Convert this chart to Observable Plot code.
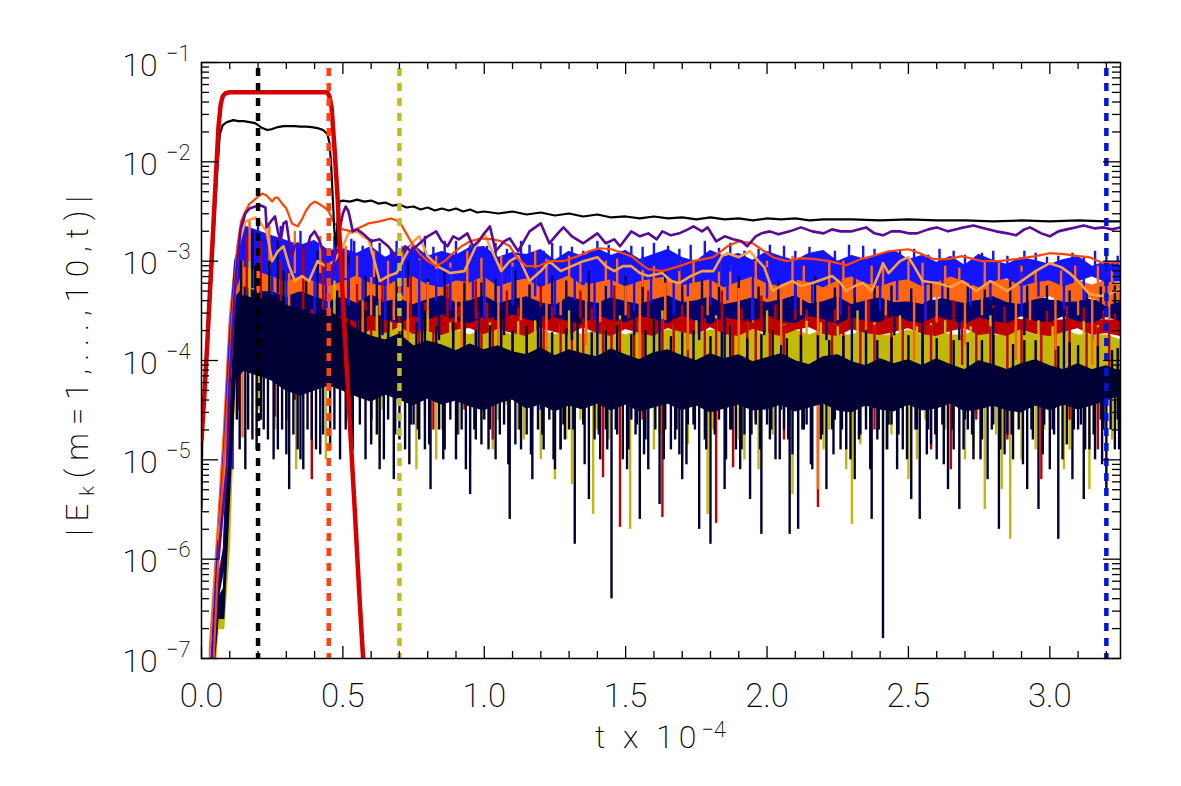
<!DOCTYPE html>
<html>
<head>
<meta charset="utf-8">
<script src="https://cdn.jsdelivr.net/npm/d3@7"></script>
<script src="https://cdn.jsdelivr.net/npm/@observablehq/plot@0.6"></script>
<style>
  html, body { margin: 0; padding: 0; background: #fff; }
  #chart { width: 1181px; height: 786px; }
</style>
</head>
<body>
<div id="chart"></div>
<script>
// ---------- axis tick values ----------
const xMajorTicks = [0, 0.5, 1.0, 1.5, 2.0, 2.5, 3.0];
const xMinorTicks = [0.1,0.2,0.3,0.4,0.6,0.7,0.8,0.9,1.1,1.2,1.3,1.4,1.6,1.7,1.8,1.9,2.1,2.2,2.3,2.4,2.6,2.7,2.8,2.9,3.1,3.2];
const yDecades = [-7, -6, -5, -4, -3, -2, -1];

// ---------- shared time grid for the noisy mode envelopes (t x 1e-4) ----------
const G = [0.03,0.06,0.08,0.1,0.12,0.15,0.2,0.25,0.3,0.35,0.4,0.45,0.5,0.55,0.6,0.65,0.7,0.75,0.8,0.85,0.9,0.95,1,1.05,1.1,1.15,1.2,1.25,1.3,1.35,1.4,1.45,1.5,1.55,1.6,1.65,1.7,1.75,1.8,1.85,1.9,1.95,2,2.05,2.1,2.15,2.2,2.25,2.3,2.35,2.4,2.45,2.5,2.55,2.6,2.65,2.7,2.75,2.8,2.85,2.9,2.95,3,3.05,3.1,3.15,3.2,3.25];

// envelopes, log10 of |E_k|
const blueHi = [-7.3,-5.8,-4.9,-3.8,-3.0,
 -2.65,-2.7,-2.75,-2.8,-2.85,-2.8,-2.9,
 -2.88,-2.93,-2.86,-2.97,-2.9,-2.84,-2.96,-2.91,-2.95,-2.87,
 -2.86,-2.97,-2.92,-2.94,-2.89,-3.0,-2.91,-2.96,-2.88,-2.95,
 -2.9,-2.99,-2.94,-2.89,-2.97,-3.01,-2.9,-2.96,-2.93,-3.0,
 -2.91,-2.96,-3.0,-2.93,-2.9,-3.01,-2.95,-2.99,-2.94,-2.9,
 -2.99,-2.95,-3.02,-2.96,-3.05,-2.94,-3.0,-3.04,-2.97,-3.0,
 -3.04,-2.99,-2.96,-3.06,-3.01,-3.05];
const blueLo = [-7.4,-5.9,-5.0,-4.0,-3.3,
 -3.05,-3.1,-3.15,-3.2,-3.15,-3.2,-3.25,
 -3.2,-3.14,-3.22,-3.25,-3.18,-3.15,-3.23,-3.26,-3.19,-3.21,
 -3.15,-3.25,-3.2,-3.17,-3.26,-3.2,-3.14,-3.24,-3.21,-3.18,
 -3.25,-3.2,-3.17,-3.15,-3.24,-3.21,-3.18,-3.26,-3.2,-3.15,
 -3.22,-3.25,-3.18,-3.21,-3.26,-3.19,-3.15,-3.22,-3.25,-3.2,
 -3.18,-3.25,-3.21,-3.15,-3.2,-3.26,-3.2,-3.17,-3.25,-3.21,
 -3.19,-3.25,-3.2,-3.15,-3.21,-3.2];
const orangeHi = [-6.9,-5.6,-4.7,-3.6,-3.0,
 -2.75,-2.8,-2.85,-2.9,-2.95,-2.9,-3.0,
 -3.0,-3.05,-3.0,-3.1,-3.05,-3.1,-3.05,-3.1,-3.1,-3.05,
 -3.1,-3.1,-3.05,-3.1,-3.15,-3.1,-3.1,-3.05,-3.1,-3.15,
 -3.1,-3.1,-3.15,-3.1,-3.1,-3.15,-3.1,-3.1,-3.15,-3.1,
 -3.15,-3.1,-3.1,-3.15,-3.1,-3.15,-3.15,-3.1,-3.15,-3.1,
 -3.15,-3.2,-3.1,-3.15,-3.2,-3.15,-3.15,-3.2,-3.15,-3.2,
 -3.2,-3.15,-3.2,-3.25,-3.2,-3.25];
const orangeLo = [-7.0,-5.7,-4.9,-3.9,-3.35,
 -3.25,-3.3,-3.3,-3.35,-3.3,-3.35,-3.4,
 -3.35,-3.42,-3.33,-3.4,-3.37,-3.43,-3.38,-3.34,-3.41,-3.39,
 -3.34,-3.42,-3.38,-3.35,-3.41,-3.44,-3.35,-3.39,-3.42,-3.36,
 -3.4,-3.43,-3.38,-3.34,-3.41,-3.39,-3.35,-3.43,-3.4,-3.36,
 -3.41,-3.38,-3.34,-3.42,-3.4,-3.35,-3.43,-3.39,-3.36,-3.41,
 -3.4,-3.43,-3.35,-3.39,-3.42,-3.38,-3.35,-3.41,-3.43,-3.38,
 -3.35,-3.41,-3.4,-3.36,-3.45,-3.4];
const navyHi = [-7.5,-6.3,-5.9,-4.3,-3.3,
 -3.0,-3.05,-3.1,-3.15,-3.1,-3.15,-3.2,
 -3.2,-3.25,-3.3,-3.25,-3.3,-3.3,-3.25,-3.3,-3.3,-3.35,
 -3.3,-3.3,-3.35,-3.3,-3.3,-3.35,-3.3,-3.35,-3.35,-3.3,
 -3.35,-3.35,-3.3,-3.35,-3.35,-3.3,-3.35,-3.35,-3.3,-3.35,
 -3.35,-3.4,-3.35,-3.35,-3.4,-3.35,-3.35,-3.4,-3.35,-3.4,
 -3.35,-3.4,-3.4,-3.35,-3.4,-3.4,-3.35,-3.4,-3.4,-3.35,
 -3.4,-3.4,-3.35,-3.4,-3.4,-3.4];
const navyLo = [-7.6,-6.4,-6.1,-4.6,-3.6,
 -3.45,-3.5,-3.55,-3.6,-3.55,-3.6,-3.6,
 -3.55,-3.61,-3.54,-3.58,-3.62,-3.55,-3.59,-3.53,-3.6,-3.62,
 -3.55,-3.6,-3.53,-3.58,-3.62,-3.56,-3.6,-3.63,-3.54,-3.59,
 -3.61,-3.55,-3.58,-3.62,-3.54,-3.6,-3.63,-3.56,-3.59,-3.61,
 -3.54,-3.6,-3.62,-3.55,-3.58,-3.63,-3.56,-3.6,-3.61,-3.54,
 -3.6,-3.62,-3.55,-3.59,-3.63,-3.56,-3.6,-3.62,-3.55,-3.6,
 -3.61,-3.55,-3.6,-3.62,-3.56,-3.6];
const redHi = [-7.5,-6.2,-5.9,-4.6,-3.3,
 -3.1,-3.15,-3.2,-3.25,-3.3,-3.25,-3.3,
 -3.35,-3.4,-3.45,-3.4,-3.45,-3.5,-3.45,-3.5,-3.45,-3.5,
 -3.5,-3.45,-3.5,-3.5,-3.45,-3.5,-3.5,-3.5,-3.45,-3.5,
 -3.5,-3.5,-3.45,-3.5,-3.5,-3.55,-3.5,-3.5,-3.55,-3.5,
 -3.5,-3.55,-3.5,-3.55,-3.5,-3.55,-3.55,-3.5,-3.55,-3.55,
 -3.5,-3.55,-3.55,-3.6,-3.55,-3.55,-3.6,-3.55,-3.6,-3.55,
 -3.6,-3.6,-3.55,-3.6,-3.6,-3.6];
const redLo = [-7.6,-6.3,-6.0,-4.8,-3.7,
 -3.6,-3.65,-3.68,-3.7,-3.68,-3.72,-3.68,
 -3.68,-3.74,-3.69,-3.72,-3.66,-3.73,-3.7,-3.74,-3.69,-3.67,
 -3.73,-3.68,-3.72,-3.75,-3.67,-3.71,-3.74,-3.66,-3.72,-3.75,
 -3.68,-3.72,-3.75,-3.67,-3.71,-3.74,-3.66,-3.73,-3.75,-3.68,
 -3.72,-3.75,-3.69,-3.66,-3.73,-3.75,-3.68,-3.72,-3.74,-3.71,
 -3.67,-3.73,-3.75,-3.7,-3.67,-3.74,-3.72,-3.75,-3.68,-3.73,
 -3.75,-3.71,-3.67,-3.74,-3.72,-3.75];
const oliveHi = [-7.7,-6.6,-6.5,-5.6,-3.8,
 -3.35,-3.4,-3.45,-3.5,-3.55,-3.5,-3.5,
 -3.6,-3.65,-3.7,-3.65,-3.7,-3.7,-3.65,-3.7,-3.7,-3.75,
 -3.7,-3.7,-3.75,-3.7,-3.7,-3.75,-3.7,-3.75,-3.7,-3.7,
 -3.75,-3.7,-3.75,-3.7,-3.7,-3.75,-3.7,-3.7,-3.75,-3.7,
 -3.75,-3.7,-3.7,-3.75,-3.7,-3.75,-3.75,-3.7,-3.75,-3.75,
 -3.7,-3.75,-3.7,-3.75,-3.75,-3.7,-3.75,-3.75,-3.7,-3.75,
 -3.75,-3.7,-3.75,-3.75,-3.75,-3.8];
const oliveLo = [-7.8,-6.7,-6.7,-5.9,-4.2,
 -4.0,-4.05,-4.1,-4.15,-4.1,-4.15,-4.1,
 -4.1,-4.15,-4.1,-4.15,-4.1,-4.15,-4.1,-4.1,-4.15,-4.1,
 -4.15,-4.1,-4.15,-4.1,-4.15,-4.1,-4.1,-4.15,-4.1,-4.15,
 -4.1,-4.15,-4.1,-4.1,-4.15,-4.1,-4.15,-4.1,-4.15,-4.1,
 -4.1,-4.15,-4.1,-4.15,-4.1,-4.15,-4.1,-4.1,-4.15,-4.1,
 -4.15,-4.1,-4.15,-4.1,-4.1,-4.15,-4.1,-4.15,-4.1,-4.15,
 -4.1,-4.1,-4.15,-4.1,-4.15,-4.1];
const darkHi = [-7.5,-6.4,-6.3,-4.7,-3.6,
 -3.35,-3.4,-3.35,-3.45,-3.5,-3.55,-3.5,
 -3.6,-3.7,-3.76,-3.8,-3.74,-3.86,-3.81,-3.85,-3.91,-3.84,
 -3.9,-3.86,-3.92,-3.95,-3.88,-3.96,-3.9,-3.94,-3.97,-3.89,
 -3.95,-4.0,-3.93,-3.9,-3.96,-4.01,-3.94,-3.99,-3.95,-4.02,
 -3.98,-3.94,-4.01,-4.05,-3.97,-3.95,-4.02,-4.06,-3.99,-4.04,
 -4.0,-4.06,-3.99,-4.05,-4.1,-4.01,-4.05,-4.1,-4.04,-4.0,
 -4.06,-4.1,-4.04,-4.1,-4.06,-4.12];
const darkLo = [-7.6,-6.6,-6.6,-5.4,-4.2,
 -4.1,-4.15,-4.2,-4.3,-4.35,-4.3,-4.25,
 -4.3,-4.36,-4.41,-4.34,-4.39,-4.45,-4.38,-4.44,-4.4,-4.46,
 -4.5,-4.43,-4.39,-4.48,-4.44,-4.51,-4.45,-4.49,-4.43,-4.5,
 -4.44,-4.51,-4.47,-4.43,-4.5,-4.45,-4.52,-4.48,-4.44,-4.5,
 -4.49,-4.44,-4.51,-4.47,-4.43,-4.5,-4.52,-4.45,-4.49,-4.51,
 -4.44,-4.5,-4.48,-4.43,-4.51,-4.49,-4.45,-4.5,-4.52,-4.45,
 -4.5,-4.44,-4.49,-4.45,-4.4,-4.35];

// spikes [t, log10 tip]
const blueSpikes = [[0.11,-5.1],[0.25,-3.97],[0.3,-3.6],[0.4,-3.87],[0.44,-3.7],[0.52,-3.5],[0.65,-3.6],[0.77,-3.7],[0.88,-3.5],[1.0,-3.6],[1.1,-3.45],[1.25,-3.55],[1.39,-3.6],[1.53,-3.5],[1.67,-3.55],[1.8,-3.45],[1.95,-3.6],[2.1,-3.5],[2.26,-3.55],[2.4,-3.5],[2.56,-3.6],[2.72,-3.45],[2.9,-3.55],[3.05,-3.5],[3.2,-3.45],
 [0.15,-2.55],[0.2,-2.6],[0.28,-2.65],[0.35,-2.7],[0.47,-2.75],[0.54,-2.8],[0.6,-2.78],[0.69,-2.8],[0.79,-2.75],[0.9,-2.8],[1.01,-2.85],[1.13,-2.8],[1.27,-2.85],[1.4,-2.8],[1.52,-2.85],[1.65,-2.85],[1.78,-2.8],[1.92,-2.9],[2.06,-2.85],[2.2,-2.9],[2.34,-2.85],[2.47,-2.9],[2.61,-2.88],[2.76,-2.92],[2.91,-2.9],[3.03,-2.95],[3.16,-2.9],[3.24,-2.95]];
const blueFringe = [[0.53,-2.78],[0.57,-2.85],[0.63,-2.82],[0.67,-2.88],[0.74,-2.83],[0.82,-2.86],[0.86,-2.8],[0.95,-2.84],[0.98,-2.9],[1.04,-2.82],[1.08,-2.88],[1.16,-2.84],[1.21,-2.9],[1.24,-2.82],[1.31,-2.86],[1.35,-2.9],[1.44,-2.84],[1.48,-2.9],[1.56,-2.86],[1.6,-2.82],[1.69,-2.88],[1.73,-2.84],[1.83,-2.87],[1.87,-2.82],[1.97,-2.88],[2.01,-2.84],[2.1,-2.9],[2.15,-2.86],[2.24,-2.9],[2.29,-2.84],[2.38,-2.88],[2.43,-2.92],[2.52,-2.88],[2.57,-2.94],[2.66,-2.9],[2.7,-2.94],[2.8,-2.9],[2.85,-2.95],[2.95,-2.92],[2.99,-2.96],[3.08,-2.92],[3.12,-2.96],[3.2,-2.93],
 [0.57,-3.4],[0.71,-3.35],[0.83,-3.4],[0.96,-3.38],[1.06,-3.42],[1.18,-3.36],[1.32,-3.4],[1.45,-3.38],[1.59,-3.42],[1.72,-3.36],[1.86,-3.4],[2.0,-3.38],[2.16,-3.42],[2.31,-3.36],[2.46,-3.4],[2.62,-3.38],[2.79,-3.4],[2.96,-3.36],[3.12,-3.4]];
const orangeSpikes = [[0.145,-4.78],[0.2,-4.0],[0.31,-3.9],[0.45,-4.2],[0.57,-4.13],[0.63,-3.9],[0.73,-4.0],[0.92,-4.1],[1.05,-3.9],[1.22,-4.0],[1.36,-3.85],[1.55,-4.2],[1.72,-3.9],[1.9,-4.0],[2.05,-3.85],[2.18,-5.3],[2.35,-3.9],[2.52,-4.0],[2.7,-3.85],[2.88,-4.0],[3.02,-3.9],[3.15,-4.05],
 [0.17,-2.6],[0.24,-2.65],[0.33,-2.7],[0.42,-2.75],[0.51,-2.85],[0.61,-2.9],[0.71,-2.85],[0.83,-2.95],[0.94,-2.9],[1.06,-2.95],[1.18,-2.9],[1.3,-2.95],[1.43,-3.0],[1.56,-2.95],[1.69,-3.0],[1.83,-2.95],[1.96,-3.0],[2.09,-2.95],[2.22,-3.0],[2.37,-3.05],[2.5,-3.0],[2.63,-3.05],[2.77,-3.0],[2.9,-3.05],[3.04,-3.1],[3.17,-3.05]];
const orangeFringe = [[0.55,-2.95],[0.66,-3.0],[0.77,-2.98],[0.88,-3.02],[0.99,-2.97],[1.1,-3.02],[1.22,-2.98],[1.34,-3.03],[1.47,-2.98],[1.6,-3.03],[1.74,-2.99],[1.87,-3.04],[2.0,-3.0],[2.13,-3.05],[2.27,-3.0],[2.41,-3.05],[2.55,-3.02],[2.68,-3.07],[2.82,-3.02],[2.95,-3.08],[3.09,-3.05],[3.22,-3.1],
 [0.6,-3.55],[0.68,-3.6],[0.8,-3.55],[0.9,-3.62],[1.0,-3.55],[1.13,-3.6],[1.27,-3.55],[1.41,-3.62],[1.5,-3.55],[1.64,-3.6],[1.79,-3.55],[1.95,-3.62],[2.12,-3.55],[2.25,-3.6],[2.42,-3.55],[2.6,-3.62],[2.76,-3.55],[2.93,-3.6],[3.1,-3.55],[3.21,-3.6]];
const navySpikes = [[0.3,-4.6],[0.55,-4.3],[0.78,-4.4],[0.98,-4.2],[1.2,-4.5],[1.4,-4.3],[1.62,-4.4],[1.85,-4.2],[2.05,-4.5],[2.3,-4.3],[2.55,-4.4],[2.8,-4.2],[3.05,-4.4],
 [0.18,-2.7],[0.27,-2.8],[0.41,-2.9],[0.52,-2.95],[0.62,-3.05],[0.73,-3.0],[0.86,-3.1],[0.99,-3.05],[1.11,-3.1],[1.24,-3.15],[1.37,-3.1],[1.5,-3.15],[1.64,-3.1],[1.77,-3.2],[1.9,-3.15],[2.04,-3.2],[2.17,-3.15],[2.31,-3.2],[2.44,-3.25],[2.58,-3.2],[2.71,-3.25],[2.86,-3.2],[2.99,-3.25],[3.13,-3.3],[3.23,-3.25]];
const navyFringe = [[0.58,-3.15],[0.69,-3.2],[0.8,-3.18],[0.93,-3.22],[1.04,-3.18],[1.16,-3.24],[1.29,-3.2],[1.43,-3.24],[1.56,-3.2],[1.7,-3.25],[1.83,-3.2],[1.97,-3.26],[2.1,-3.22],[2.24,-3.27],[2.38,-3.22],[2.51,-3.28],[2.64,-3.24],[2.77,-3.29],[2.92,-3.25],[3.07,-3.3],[3.18,-3.26],
 [0.64,-3.75],[0.84,-3.8],[1.07,-3.75],[1.31,-3.8],[1.53,-3.75],[1.76,-3.8],[1.99,-3.75],[2.21,-3.8],[2.45,-3.75],[2.68,-3.8],[2.91,-3.75],[3.15,-3.8]];
const redSpikes = [[0.13,-4.5],[0.26,-4.57],[0.33,-4.4],[0.39,-5.2],[0.5,-4.3],[0.6,-4.6],[0.7,-4.4],[0.82,-4.7],[0.93,-4.5],[1.03,-4.8],[1.15,-4.4],[1.27,-4.9],[1.35,-4.5],[1.42,-5.18],[1.48,-5.68],[1.56,-4.6],[1.63,-5.58],[1.72,-4.5],[1.82,-5.64],[1.88,-5.08],[1.96,-4.6],[2.06,-4.8],[2.18,-5.48],[2.27,-4.5],[2.38,-4.7],[2.48,-4.5],[2.58,-4.9],[2.65,-5.1],[2.74,-4.6],[2.85,-4.8],[2.97,-5.2],[3.07,-4.6],[3.17,-4.9],
 [0.16,-2.75],[0.21,-2.8],[0.28,-2.85],[0.36,-2.9],[0.43,-3.0],[0.55,-3.1],[0.64,-3.2],[0.74,-3.15],[0.87,-3.25],[0.97,-3.2],[1.08,-3.3],[1.2,-3.25],[1.34,-3.3],[1.46,-3.25],[1.58,-3.3],[1.7,-3.35],[1.84,-3.3],[1.98,-3.35],[2.1,-3.3],[2.24,-3.35],[2.36,-3.4],[2.52,-3.35],[2.66,-3.4],[2.8,-3.45],[2.93,-3.4],[3.06,-3.45],[3.19,-3.5]];
const redFringe = [[0.58,-3.4],[0.68,-3.45],[0.79,-3.42],[0.91,-3.46],[1.01,-3.42],[1.12,-3.47],[1.24,-3.42],[1.38,-3.47],[1.51,-3.43],[1.64,-3.48],[1.77,-3.44],[1.91,-3.48],[2.03,-3.44],[2.14,-3.49],[2.29,-3.45],[2.42,-3.5],[2.56,-3.45],[2.7,-3.5],[2.84,-3.46],[2.99,-3.5],[3.12,-3.47],[3.23,-3.52],
 [0.55,-4.1],[0.66,-4.2],[0.77,-4.05],[0.89,-4.25],[0.99,-4.1],[1.1,-4.3],[1.21,-4.05],[1.31,-4.2],[1.45,-4.1],[1.53,-4.25],[1.67,-4.05],[1.78,-4.2],[1.93,-4.3],[2.01,-4.1],[2.12,-4.2],[2.23,-4.05],[2.33,-4.3],[2.44,-4.1],[2.55,-4.2],[2.69,-4.05],[2.79,-4.25],[2.9,-4.1],[3.02,-4.3],[3.13,-4.1],[3.21,-4.2]];
const oliveSpikes = [[0.2,-4.5],[0.26,-4.7],[0.335,-5.1],[0.44,-5.0],[0.52,-4.6],[0.6,-4.8],[0.76,-5.1],[0.85,-4.7],[0.95,-4.95],[1.05,-4.6],[1.14,-4.8],[1.25,-5.2],[1.31,-5.25],[1.385,-5.55],[1.44,-4.8],[1.516,-5.7],[1.6,-4.9],[1.7,-5.0],[1.79,-5.55],[1.9,-4.8],[1.97,-5.1],[2.09,-5.35],[2.2,-4.9],[2.28,-5.1],[2.3,-5.65],[2.42,-4.9],[2.5,-5.2],[2.6,-4.8],[2.7,-5.0],[2.77,-5.5],[2.83,-5.3],[2.86,-5.8],[2.95,-4.9],[3.05,-5.1],[3.14,-5.3],[3.22,-4.8],
 [0.17,-3.0],[0.3,-3.2],[0.47,-3.2],[0.62,-3.45],[0.8,-3.5],[0.98,-3.5],[1.12,-3.55],[1.3,-3.5],[1.48,-3.55],[1.63,-3.5],[1.82,-3.55],[2.0,-3.5],[2.14,-3.55],[2.32,-3.5],[2.47,-3.55],[2.63,-3.6],[2.79,-3.55],[2.96,-3.6],[3.12,-3.6]];
const oliveFringe = [[0.55,-3.6],[0.67,-3.62],[0.73,-3.58],[0.88,-3.62],[0.93,-3.6],[1.02,-3.62],[1.18,-3.6],[1.27,-3.63],[1.36,-3.6],[1.42,-3.64],[1.55,-3.62],[1.67,-3.64],[1.75,-3.6],[1.87,-3.65],[1.93,-3.62],[2.06,-3.64],[2.19,-3.62],[2.25,-3.66],[2.38,-3.62],[2.53,-3.66],[2.58,-3.63],[2.72,-3.66],[2.88,-3.64],[3.01,-3.66],[3.17,-3.65],
 [0.56,-4.4],[0.64,-4.5],[0.7,-4.35],[0.79,-4.55],[0.89,-4.4],[0.99,-4.6],[1.08,-4.45],[1.17,-4.55],[1.22,-4.4],[1.34,-4.6],[1.47,-4.45],[1.56,-4.55],[1.65,-4.4],[1.74,-4.6],[1.84,-4.45],[1.94,-4.55],[2.04,-4.4],[2.13,-4.6],[2.24,-4.45],[2.35,-4.55],[2.46,-4.4],[2.56,-4.6],[2.66,-4.45],[2.74,-4.55],[2.92,-4.4],[3.0,-4.6],[3.09,-4.45],[3.19,-4.55],
 [0.535,-4.75],[0.63,-4.9],[0.72,-4.7],[0.83,-5.0],[0.91,-4.75],[1.03,-4.9],[1.12,-4.7],[1.2,-5.0],[1.29,-4.8],[1.4,-4.7],[1.51,-4.9],[1.62,-4.75],[1.72,-4.85],[1.81,-4.7],[1.92,-5.0],[2.02,-4.75],[2.11,-4.9],[2.22,-4.7],[2.33,-4.85],[2.44,-4.75],[2.53,-5.0],[2.63,-4.7],[2.73,-4.9],[2.81,-4.75],[2.9,-5.0],[2.98,-4.7],[3.07,-4.9],[3.16,-4.75],[3.24,-4.7]];
const darkSpikes = [[0.155,-5.1],[0.18,-4.8],[0.22,-4.7],[0.27,-4.9],[0.31,-5.3],[0.34,-4.9],[0.36,-5.1],[0.39,-4.8],[0.42,-4.95],[0.53,-4.8],[0.58,-5.0],[0.63,-5.1],[0.68,-5.2],[0.72,-4.9],[0.77,-4.8],[0.81,-5.3],[0.86,-4.9],[0.9,-5.0],[0.95,-5.35],[0.99,-4.85],[1.04,-5.0],[1.09,-5.6],[1.13,-4.9],[1.17,-5.2],[1.21,-4.9],[1.25,-5.1],[1.32,-5.85],[1.37,-5.4],[1.41,-5.0],[1.45,-6.4],[1.49,-5.0],[1.55,-5.6],[1.58,-5.1],[1.62,-5.45],[1.66,-4.9],[1.7,-5.2],[1.76,-5.7],[1.8,-5.85],[1.85,-5.3],[1.89,-4.9],[1.94,-5.4],[1.98,-5.75],[2.03,-5.0],[2.08,-5.75],[2.11,-5.7],[2.16,-5.1],[2.21,-5.3],[2.26,-4.9],[2.31,-5.2],[2.37,-5.6],[2.41,-6.8],[2.46,-5.1],[2.51,-5.4],[2.54,-5.6],[2.6,-5.0],[2.64,-5.3],[2.68,-5.5],[2.73,-5.0],[2.78,-5.2],[2.82,-5.7],[2.87,-5.0],[2.92,-5.3],[2.96,-5.5],[3.0,-5.1],[3.03,-5.8],[3.08,-5.2],[3.12,-5.4],[3.16,-5.0],[3.2,-5.3],[3.23,-4.9],
 [0.6,-4.6],[0.75,-4.65],[0.92,-4.7],[1.0,-4.6],[1.15,-4.75],[1.28,-4.65],[1.43,-4.7],[1.52,-4.6],[1.68,-4.7],[1.72,-4.65],[1.83,-4.6],[1.92,-4.75],[2.0,-4.65],[2.13,-4.7],[2.24,-4.6],[2.33,-4.75],[2.44,-4.65],[2.57,-4.7],[2.7,-4.6],[2.85,-4.75],[2.98,-4.65],[3.1,-4.7],[3.18,-4.6],
 [0.14,-3.0],[0.19,-3.05],[0.24,-3.0],[0.29,-3.1],[0.37,-3.2],[0.48,-3.3],[0.56,-3.4],[0.66,-3.45],[0.79,-3.5],[0.93,-3.55],[1.06,-3.5],[1.19,-3.6],[1.33,-3.55],[1.47,-3.65],[1.6,-3.6],[1.74,-3.7],[1.87,-3.65],[2.02,-3.7],[2.18,-3.75],[2.35,-3.7],[2.5,-3.75],[2.66,-3.8],[2.8,-3.75],[2.95,-3.8],[3.1,-3.85],[3.22,-3.9]];
const darkFringe = [[0.51,-4.7],[0.56,-4.65],[0.62,-4.75],[0.66,-4.6],[0.7,-4.8],[0.74,-4.65],[0.79,-4.9],[0.84,-4.7],[0.88,-4.6],[0.97,-4.8],[1.02,-4.7],[1.07,-4.65],[1.11,-4.85],[1.19,-4.7],[1.23,-4.6],[1.27,-4.9],[1.3,-4.7],[1.35,-4.65],[1.39,-4.8],[1.47,-4.75],[1.51,-4.9],[1.54,-4.65],[1.57,-4.8],[1.64,-4.7],[1.69,-4.95],[1.74,-4.65],[1.78,-4.8],[1.87,-4.7],[1.91,-4.9],[1.96,-4.65],[2.01,-4.8],[2.06,-4.7],[2.09,-4.95],[2.14,-4.65],[2.19,-4.8],[2.23,-4.7],[2.28,-4.9],[2.35,-4.7],[2.39,-4.8],[2.43,-4.65],[2.48,-4.9],[2.53,-4.7],[2.58,-4.85],[2.62,-4.65],[2.66,-4.9],[2.71,-4.7],[2.76,-4.8],[2.8,-4.65],[2.84,-4.95],[2.89,-4.7],[2.94,-4.8],[3.01,-4.7],[3.06,-4.85],[3.11,-4.65],[3.14,-4.9],[3.19,-4.7],[3.24,-4.6],
 [0.52,-3.45],[0.58,-3.5],[0.63,-3.55],[0.71,-3.6],[0.76,-3.62],[0.83,-3.66],[0.89,-3.62],[0.97,-3.7],[1.02,-3.65],[1.1,-3.7],[1.15,-3.66],[1.24,-3.72],[1.29,-3.68],[1.38,-3.72],[1.43,-3.7],[1.52,-3.74],[1.57,-3.7],[1.66,-3.76],[1.7,-3.72],[1.8,-3.76],[1.84,-3.72],[1.93,-3.78],[1.98,-3.74],[2.07,-3.78],[2.12,-3.75],[2.22,-3.8],[2.27,-3.76],[2.39,-3.8],[2.44,-3.77],[2.55,-3.82],[2.6,-3.78],[2.71,-3.82],[2.76,-3.8],[2.87,-3.84],[2.91,-3.8],[3.03,-3.86],[3.07,-3.82],[3.17,-3.86],[3.24,-3.88]];
const darkFringe2 = [[0.125,-4.6],[0.135,-4.9],[0.165,-4.7],[0.195,-4.9],[0.21,-4.6],[0.235,-4.8],[0.255,-5.0],[0.285,-4.7],[0.3,-4.95],[0.325,-4.75],[0.35,-5.0],[0.375,-4.7],[0.405,-4.9],[0.43,-4.75],[0.455,-4.9],[0.47,-4.7],[0.49,-5.0],
 [0.535,-4.9],[0.6,-4.85],[0.645,-5.0],[0.685,-4.75],[0.735,-5.05],[0.765,-4.7],[0.805,-4.85],[0.855,-5.0],[0.905,-4.75],[0.935,-5.1],[0.965,-4.7],[1.015,-4.9],[1.055,-4.75],[1.085,-5.05],[1.125,-4.7],[1.165,-4.95],[1.205,-4.75],[1.245,-5.0],[1.285,-4.8],[1.315,-4.7],[1.355,-5.05],[1.405,-4.75],[1.435,-4.9],[1.465,-4.7],[1.505,-5.1],[1.535,-4.75],[1.565,-4.95],[1.605,-4.7],[1.635,-5.0],[1.675,-4.8],[1.715,-5.05],[1.745,-4.7],[1.785,-4.9],[1.815,-4.75],[1.855,-5.0],[1.875,-4.7],[1.905,-5.1],[1.945,-4.75],[1.975,-4.9],[2.015,-4.7],[2.045,-5.0],[2.075,-4.8],[2.125,-4.7],[2.155,-5.05],[2.195,-4.75],[2.235,-4.95],[2.265,-4.7],[2.295,-5.0],[2.325,-4.8],[2.365,-5.1],[2.395,-4.7],[2.425,-4.9],[2.465,-4.75],[2.495,-5.0],[2.525,-4.7],[2.565,-4.95],[2.595,-4.75],[2.625,-5.05],[2.655,-4.7],[2.695,-4.9],[2.725,-4.75],[2.755,-5.0],[2.795,-4.7],[2.825,-4.9],[2.865,-4.75],[2.905,-5.05],[2.935,-4.7],[2.975,-4.95],[3.015,-4.75],[3.045,-5.0],[3.085,-4.7],[3.125,-4.9],[3.155,-4.75],[3.185,-5.05],[3.215,-4.7],[3.245,-4.9]];

// smoother curves [t, log10 |E_k|]
const lightOrange = [[0.06,-5.8],[0.09,-4.8],[0.11,-3.6],[0.13,-2.85],[0.155,-2.6],[0.19,-2.56],[0.21,-2.62],[0.23,-2.7],[0.25,-3.0],[0.27,-2.9],[0.29,-2.85],[0.31,-3.05],[0.33,-3.2],[0.355,-3.15],[0.38,-3.2],[0.41,-3.0],[0.44,-3.05],[0.47,-3.0],[0.5,-2.85],[0.52,-2.72],[0.55,-2.7],[0.57,-2.75],[0.59,-2.78],[0.61,-2.98],[0.63,-3.2],[0.66,-3.15],[0.69,-3.12],[0.72,-2.95],[0.75,-2.8],[0.77,-2.75],[0.8,-2.95],[0.84,-3.06],[0.88,-3.12],[0.93,-3.1],[0.97,-2.85],[1.0,-2.72],[1.02,-2.85],[1.06,-3.1],[1.09,-3.0],[1.12,-2.95],[1.16,-3.2],[1.2,-3.1],[1.23,-3.0],[1.27,-3.1],[1.31,-3.05],[1.35,-3.0],[1.4,-2.96],[1.43,-3.05],[1.46,-3.1],[1.49,-3.05],[1.52,-3.05],[1.55,-3.12],[1.58,-3.15],[1.63,-3.12],[1.66,-3.2],[1.69,-3.22],[1.73,-3.15],[1.77,-3.1],[1.81,-3.1],[1.84,-2.95],[1.86,-2.92],[1.9,-2.96],[1.94,-2.9],[1.97,-3.0],[1.99,-3.06],[2.02,-3.3],[2.05,-3.25],[2.09,-3.2],[2.12,-3.25],[2.16,-3.22],[2.2,-3.18],[2.23,-3.15],[2.26,-3.22],[2.28,-3.3],[2.31,-3.25],[2.34,-3.22],[2.37,-3.3],[2.4,-3.1],[2.41,-3.02],[2.43,-3.12],[2.47,-3.0],[2.5,-2.96],[2.52,-3.05],[2.55,-3.2],[2.6,-3.22],[2.65,-3.26],[2.69,-3.2],[2.74,-3.3],[2.79,-3.2],[2.85,-3.3],[2.9,-3.2],[2.95,-3.1],[3.0,-3.02],[3.04,-3.06],[3.07,-3.12],[3.1,-3.2],[3.14,-3.33],[3.18,-3.35],[3.21,-3.33],[3.25,-3.28]];
const orangeRed = [[0.04,-7.2],[0.067,-5.55],[0.09,-4.5],[0.11,-3.5],[0.127,-2.85],[0.14,-2.6],[0.155,-2.5],[0.17,-2.42],[0.18,-2.4],[0.2,-2.35],[0.215,-2.32],[0.23,-2.34],[0.25,-2.4],[0.26,-2.36],[0.27,-2.36],[0.285,-2.42],[0.3,-2.47],[0.32,-2.62],[0.34,-2.65],[0.355,-2.58],[0.37,-2.49],[0.385,-2.43],[0.4,-2.4],[0.42,-2.43],[0.44,-2.47],[0.45,-2.5],[0.47,-2.62],[0.5,-2.68],[0.53,-2.7],[0.56,-2.66],[0.59,-2.62],[0.63,-2.6],[0.67,-2.57],[0.7,-2.6],[0.72,-2.7],[0.74,-2.8],[0.77,-2.92],[0.8,-3.0],[0.83,-3.05],[0.86,-3.0],[0.89,-2.92],[0.92,-2.85],[0.95,-2.8],[0.99,-2.77],[1.03,-2.78],[1.06,-2.8],[1.09,-2.85],[1.12,-2.98],[1.15,-3.05],[1.19,-3.05],[1.23,-3.0],[1.28,-3.0],[1.33,-2.95],[1.37,-2.9],[1.41,-2.87],[1.45,-2.88],[1.49,-2.92],[1.52,-2.95],[1.55,-3.02],[1.58,-3.08],[1.63,-3.1],[1.69,-3.05],[1.74,-3.0],[1.81,-2.96],[1.86,-2.85],[1.9,-2.8],[1.95,-2.82],[1.99,-2.9],[2.02,-2.96],[2.07,-3.0],[2.12,-2.97],[2.17,-2.98],[2.22,-3.0],[2.28,-3.04],[2.33,-2.98],[2.37,-2.95],[2.43,-2.9],[2.5,-2.88],[2.54,-2.92],[2.59,-2.98],[2.64,-2.98],[2.69,-2.95],[2.76,-3.0],[2.82,-3.0],[2.88,-2.98],[2.95,-2.95],[3.0,-2.92],[3.05,-2.93],[3.1,-2.95],[3.14,-2.96],[3.19,-3.02],[3.25,-3.01]];
const purple = [[0.06,-6.0],[0.09,-5.05],[0.1,-4.2],[0.12,-3.2],[0.138,-2.68],[0.155,-2.52],[0.17,-2.47],[0.19,-2.45],[0.21,-2.44],[0.226,-2.46],[0.23,-2.66],[0.245,-2.6],[0.26,-2.55],[0.27,-2.7],[0.28,-2.8],[0.29,-2.62],[0.3,-2.6],[0.31,-2.8],[0.32,-2.95],[0.33,-2.85],[0.34,-2.82],[0.355,-2.88],[0.37,-2.9],[0.385,-2.75],[0.4,-2.7],[0.415,-2.78],[0.43,-2.9],[0.445,-3.1],[0.46,-3.15],[0.48,-2.8],[0.5,-2.52],[0.51,-2.45],[0.52,-2.5],[0.535,-2.7],[0.55,-2.68],[0.57,-2.72],[0.6,-2.8],[0.63,-2.78],[0.66,-2.85],[0.69,-2.96],[0.72,-2.85],[0.74,-2.9],[0.76,-2.85],[0.78,-2.8],[0.8,-2.75],[0.83,-2.7],[0.85,-2.8],[0.87,-2.85],[0.89,-2.75],[0.91,-2.78],[0.94,-2.72],[0.96,-2.85],[0.98,-2.8],[1.0,-2.72],[1.02,-2.65],[1.04,-2.9],[1.07,-2.8],[1.09,-2.77],[1.12,-2.9],[1.14,-2.8],[1.16,-2.7],[1.2,-2.62],[1.23,-2.82],[1.26,-2.72],[1.28,-2.66],[1.31,-2.75],[1.35,-2.82],[1.38,-2.76],[1.4,-2.72],[1.43,-2.82],[1.46,-2.78],[1.48,-2.85],[1.52,-2.7],[1.55,-2.75],[1.58,-2.72],[1.61,-2.78],[1.63,-2.7],[1.66,-2.74],[1.69,-2.72],[1.72,-2.68],[1.74,-2.65],[1.77,-2.7],[1.79,-2.66],[1.82,-2.8],[1.85,-2.75],[1.88,-2.78],[1.91,-2.8],[1.93,-2.85],[1.96,-2.75],[1.98,-2.72],[2.01,-2.7],[2.04,-2.73],[2.08,-2.7],[2.12,-2.66],[2.16,-2.7],[2.2,-2.72],[2.23,-2.68],[2.26,-2.7],[2.3,-2.7],[2.35,-2.66],[2.38,-2.72],[2.41,-2.74],[2.44,-2.7],[2.47,-2.7],[2.5,-2.72],[2.53,-2.72],[2.57,-2.68],[2.6,-2.66],[2.64,-2.7],[2.68,-2.67],[2.73,-2.64],[2.77,-2.67],[2.81,-2.7],[2.85,-2.72],[2.88,-2.74],[2.91,-2.68],[2.93,-2.66],[2.97,-2.72],[3.0,-2.75],[3.03,-2.7],[3.06,-2.68],[3.09,-2.66],[3.12,-2.64],[3.16,-2.67],[3.19,-2.66],[3.22,-2.68],[3.25,-2.66]];
const black = [[0,-5.5],[0.003,-4.7],[0.02,-3.95],[0.04,-2.9],[0.055,-2.1],[0.065,-1.72],[0.075,-1.63],[0.09,-1.6],[0.113,-1.58],[0.13,-1.59],[0.15,-1.59],[0.17,-1.6],[0.19,-1.61],[0.2,-1.63],[0.215,-1.66],[0.233,-1.68],[0.25,-1.67],[0.27,-1.65],[0.29,-1.64],[0.31,-1.64],[0.33,-1.64],[0.35,-1.645],[0.37,-1.645],[0.39,-1.65],[0.41,-1.66],[0.43,-1.68],[0.445,-1.72],[0.452,-1.8],[0.458,-2.0],[0.464,-2.35],[0.47,-2.7],[0.476,-2.85],[0.482,-2.55],[0.488,-2.4],[0.5,-2.39],[0.525,-2.4],[0.55,-2.38],[0.575,-2.4],[0.6,-2.39],[0.625,-2.42],[0.65,-2.41],[0.675,-2.44],[0.7,-2.43],[0.725,-2.46],[0.75,-2.45],[0.775,-2.48],[0.8,-2.46],[0.825,-2.49],[0.85,-2.47],[0.875,-2.49],[0.9,-2.47],[0.925,-2.5],[0.95,-2.48],[0.975,-2.51],[1.0,-2.5],[1.05,-2.52],[1.1,-2.5],[1.15,-2.53],[1.2,-2.51],[1.25,-2.54],[1.3,-2.52],[1.35,-2.55],[1.4,-2.53],[1.45,-2.56],[1.5,-2.55],[1.55,-2.57],[1.6,-2.55],[1.65,-2.57],[1.7,-2.56],[1.75,-2.58],[1.8,-2.56],[1.85,-2.58],[1.9,-2.57],[1.95,-2.59],[2.0,-2.57],[2.05,-2.58],[2.1,-2.57],[2.15,-2.59],[2.2,-2.58],[2.3,-2.58],[2.4,-2.59],[2.5,-2.58],[2.6,-2.59],[2.7,-2.59],[2.8,-2.6],[2.9,-2.59],[3.0,-2.6],[3.1,-2.59],[3.2,-2.6],[3.25,-2.6]];
const thickRed = [[0,-4.8],[0.01,-4.35],[0.02,-3.85],[0.03,-3.3],[0.04,-2.75],[0.05,-2.2],[0.06,-1.65],[0.068,-1.42],[0.075,-1.34],[0.085,-1.31],[0.1,-1.3],[0.445,-1.3],[0.452,-1.34],[0.46,-1.45],[0.47,-1.85],[0.48,-2.3],[0.49,-2.85],[0.5,-3.4],[0.52,-4.4],[0.54,-5.4],[0.56,-6.45],[0.58,-7.4]];

// vertical dashed markers (t)
const markers = [
  {t: 0.2, color: "#000000"},
  {t: 0.45, color: "#ff4210"},
  {t: 0.7, color: "#c2ba1e"},
  {t: 3.2, color: "#0016d6"}
];

// ---------- build tables ----------
function band(lo, hi) {
  const n = Math.min(G.length, lo.length, hi.length);
  return G.slice(0, n).map((t, i) => ({t, lo: 10 ** lo[i], hi: 10 ** hi[i]}));
}
function spikeRows(list, lo, hi) {
  return list.map(([t, v]) => {
    let b = 0;
    G.forEach((g, i) => { if (Math.abs(g - t) < Math.abs(G[b] - t)) b = i; });
    return {t, tip: 10 ** v, base: 10 ** ((lo[b] + hi[b]) / 2)};
  });
}
const pts = list => list.map(([t, v]) => ({t, v: 10 ** v}));

const noisy = [
  {color: "#c2b808", lo: oliveLo, hi: oliveHi, sp: oliveSpikes.concat(oliveFringe)},
  {color: "#c00000", lo: redLo, hi: redHi, sp: redSpikes.concat(redFringe)},
  {color: "#00006e", lo: navyLo, hi: navyHi, sp: navySpikes.concat(navyFringe)},
  {color: "#ff6612", lo: orangeLo, hi: orangeHi, sp: orangeSpikes.concat(orangeFringe)},
  {color: "#1414ff", lo: blueLo, hi: blueHi, sp: blueSpikes.concat(blueFringe)}
];
const dark = {color: "#000034", lo: darkLo, hi: darkHi, sp: darkSpikes.concat(darkFringe, darkFringe2)};

const bandMark = s => Plot.areaY(band(s.lo, s.hi), {x: "t", y1: "lo", y2: "hi", fill: s.color, stroke: s.color, strokeWidth: 1.5, clip: true});
const spikeMark = s => Plot.ruleX(spikeRows(s.sp, s.lo, s.hi), {x: "t", y1: "tip", y2: "base", stroke: s.color, strokeWidth: 2.4, clip: true});

const FH = 596, FW = 919; // frame height / width in px (for tick insets)
const yMinor = [];
yDecades.slice(0, -1).forEach(e => { for (let k = 2; k <= 9; k++) yMinor.push(k * 10 ** e); });
const yMajor = yDecades.map(e => 10 ** e);

const font = "Roboto, 'DejaVu Sans', sans-serif";

const svg = Plot.plot({
  width: 1181, height: 786,
  marginLeft: 201, marginRight: 61, marginTop: 62, marginBottom: 128,
  x: {domain: [0, 3.25], axis: null},
  y: {type: "log", domain: [1e-7, 1e-1], axis: null},
  style: {fontFamily: font, background: "white"},
  marks: [
    ...noisy.map(bandMark),
    ...noisy.map(spikeMark),
    bandMark(dark),
    spikeMark(dark),
    Plot.line(pts(lightOrange), {x: "t", y: "v", stroke: "#ffa040", strokeWidth: 2.6, clip: true}),
    Plot.line(pts(orangeRed), {x: "t", y: "v", stroke: "#ff4400", strokeWidth: 2.2, clip: true}),
    Plot.line(pts(purple), {x: "t", y: "v", stroke: "#5a0a96", strokeWidth: 2.6, clip: true}),
    Plot.line(pts(black), {x: "t", y: "v", stroke: "#000000", strokeWidth: 2.2, clip: true}),
    Plot.line(pts(thickRed), {x: "t", y: "v", stroke: "#d60000", strokeWidth: 4.5, clip: true}),
    ...markers.map(m => Plot.ruleX([m.t], {stroke: m.color, strokeWidth: 4.5, strokeDasharray: "8,7", insetTop: 6})),
    Plot.frame({stroke: "black", strokeWidth: 1.5}),
    Plot.ruleX(xMajorTicks, {insetTop: FH - 12, stroke: "black", strokeWidth: 1.3}),
    Plot.ruleX(xMajorTicks, {insetBottom: FH - 12, stroke: "black", strokeWidth: 1.3}),
    Plot.ruleX(xMinorTicks, {insetTop: FH - 7, stroke: "black", strokeWidth: 1.3}),
    Plot.ruleX(xMinorTicks, {insetBottom: FH - 7, stroke: "black", strokeWidth: 1.3}),
    Plot.ruleY(yMajor, {insetRight: FW - 17, stroke: "black", strokeWidth: 1.3}),
    Plot.ruleY(yMajor, {insetLeft: FW - 17, stroke: "black", strokeWidth: 1.3}),
    Plot.ruleY(yMinor, {insetRight: FW - 8, stroke: "black", strokeWidth: 1.3}),
    Plot.ruleY(yMinor, {insetLeft: FW - 8, stroke: "black", strokeWidth: 1.3}),
    Plot.text(xMajorTicks, {x: d => d, text: d => d.toFixed(1), frameAnchor: "bottom", lineAnchor: "top", dy: 25, fontSize: 33, fontWeight: 200, fill: "black"}),
    Plot.text(yDecades, {y: e => 10 ** e, text: () => "10", frameAnchor: "left", textAnchor: "end", dx: -44, dy: 3, fontSize: 32, fontWeight: 200, fill: "black"}),
    Plot.text(yDecades, {y: e => 10 ** e, text: e => "\u2212" + (-e), frameAnchor: "left", textAnchor: "end", dx: -11, dy: -9, fontSize: 22, fontWeight: 200, fill: "black"})
  ]
});

// axis titles (real text with super/subscripts)
const s = d3.select(svg);
const xt = s.append("text")
  .attr("x", (201 + 1120) / 2).attr("y", 748)
  .attr("text-anchor", "middle")
  .attr("font-family", font).attr("font-weight", 200).attr("font-size", 32)
  .attr("fill", "black");
xt.append("tspan").attr("letter-spacing", "5px").text("t x 10");
xt.append("tspan").attr("font-size", 22).attr("dy", -11).text("\u22124");

const yt = s.append("text")
  .attr("transform", "translate(88,362) rotate(-90)")
  .attr("text-anchor", "middle")
  .attr("font-family", font).attr("font-weight", 200).attr("font-size", 31)
  .attr("letter-spacing", "8px")
  .attr("fill", "black");
yt.append("tspan").text("|E");
yt.append("tspan").attr("font-size", 20).attr("dy", 6).text("k");
yt.append("tspan").attr("dy", -6).text("(m=1,...,10,t)|");

document.getElementById("chart").appendChild(svg);
</script>
</body>
</html>
